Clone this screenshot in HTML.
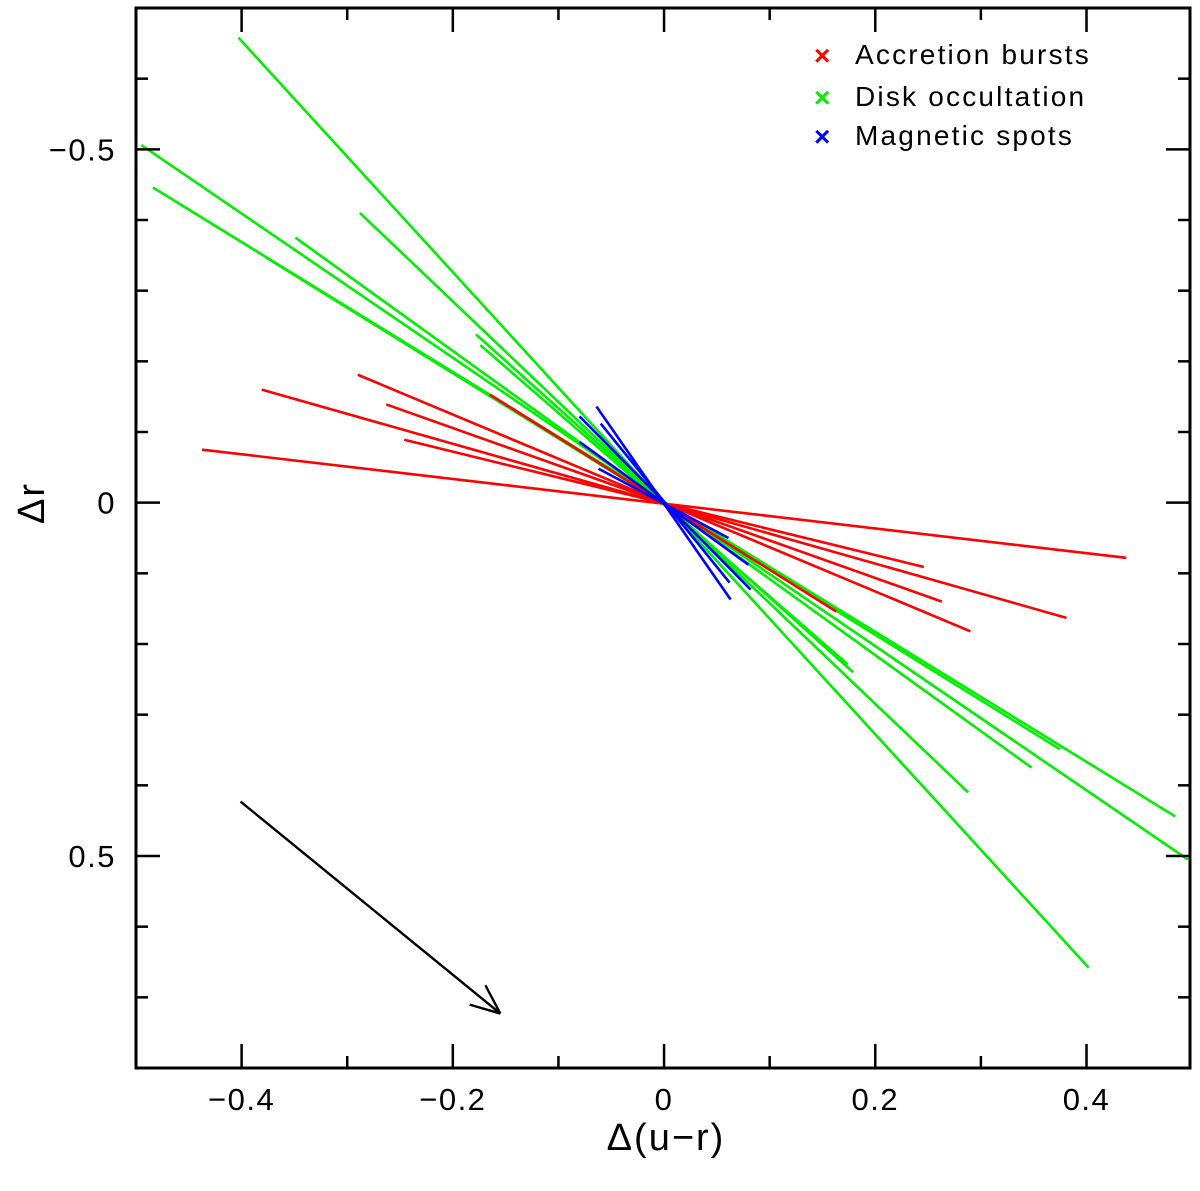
<!DOCTYPE html>
<html><head><meta charset="utf-8"><style>
html,body{margin:0;padding:0;background:#fff;}
svg text{font-family:"Liberation Sans",sans-serif;fill:#000;}
</style></head><body>
<svg id="chart" width="1200" height="1186" xmlns="http://www.w3.org/2000/svg">
<g id="marks"></g>
<g id="axes"></g>
<g font-size="28" letter-spacing="2.2">
 <text x="814" y="65" style="fill:#f00" font-size="28" font-weight="bold" letter-spacing="0">×</text>
 <text x="855" y="64">Accretion bursts</text>
 <text x="814" y="107" style="fill:#0e0" font-size="28" font-weight="bold" letter-spacing="0">×</text>
 <text x="855" y="106">Disk occultation</text>
 <text x="814" y="146" style="fill:#00f" font-size="28" font-weight="bold" letter-spacing="0">×</text>
 <text x="855" y="145">Magnetic spots</text>
</g>
<text x="666" y="1150" text-anchor="middle" font-size="38" letter-spacing="2">Δ(u−r)</text>
<text x="44" y="503" text-anchor="middle" font-size="38" letter-spacing="2" transform="rotate(-90 44 503)">Δr</text>
</svg>
<script>
const greenX1=[-0.403,-0.495,-0.484,-0.288,-0.349,-0.377,-0.178,-0.174];
const greenX2=[0.402,0.496,0.484,0.288,0.348,0.375,0.179,0.174];
const greenY1=[-0.658,-0.506,-0.446,-0.41,-0.375,-0.347,-0.238,-0.223];
const greenY2=[0.658,0.505,0.444,0.41,0.375,0.349,0.24,0.229];
const redX1=[-0.4375,-0.381,-0.29,-0.263,-0.246,-0.165];
const redX2=[0.4375,0.381,0.29,0.263,0.246,0.163];
const redY1=[-0.075,-0.16,-0.181,-0.139,-0.089,-0.153];
const redY2=[0.078,0.163,0.182,0.14,0.091,0.154];
const blueX1=[-0.064,-0.08,-0.06,-0.08,-0.062];
const blueX2=[0.063,0.082,0.062,0.08,0.061];
const blueY1=[-0.136,-0.122,-0.112,-0.086,-0.048];
const blueY2=[0.137,0.123,0.113,0.088,0.05];
const xTicks=[-0.4,-0.2,0,0.2,0.4];
const xTickLabels=["−0.4","−0.2","0","0.2","0.4"];
const yTicks=[-0.5,0,0.5];
const yTickLabels=["−0.5","0","0.5"];
const arrowStart=[-0.401,0.423];
const arrowEnd=[-0.155,0.723];

const L=136,R=1190,T=8,B=1068;
const X0=-0.5,X1=0.498,Y0=-0.7,Y1=0.8;
const sx=v=>L+(v-X0)/(X1-X0)*(R-L);
const sy=v=>T+(v-Y0)/(Y1-Y0)*(B-T);
const NS="http://www.w3.org/2000/svg";
const marks=document.getElementById('marks');
const axes=document.getElementById('axes');
function ln(g,x1,y1,x2,y2,c,w){const e=document.createElementNS(NS,'line');
e.setAttribute('x1',x1);e.setAttribute('y1',y1);e.setAttribute('x2',x2);e.setAttribute('y2',y2);
e.setAttribute('stroke',c);e.setAttribute('stroke-width',w);g.appendChild(e);return e;}
function series(xa,xb,ya,yb,c,name){for(let i=0;i<xa.length;i++){
const e=ln(marks,sx(xa[i]),sy(ya[i]),sx(xb[i]),sy(yb[i]),c,2.6);

}}
series(greenX1,greenX2,greenY1,greenY2,'#0e0','disk-occultation');
series(redX1,redX2,redY1,redY2,'#f00','accretion-burst');
series(blueX1,blueX2,blueY1,blueY2,'#00f','magnetic-spot');
const ax1=sx(arrowStart[0]),ay1=sy(arrowStart[1]),ax2=sx(arrowEnd[0]),ay2=sy(arrowEnd[1]);
const ar=ln(marks,ax1,ay1,ax2,ay2,'#000',2.4);


const ang=Math.atan2(ay2-ay1,ax2-ax1);
for(const d of [0.4,-0.4]){const h=ln(marks,ax2,ay2,ax2-32*Math.cos(ang+d),ay2-32*Math.sin(ang+d),'#000',2.4);

}
const fr=document.createElementNS(NS,'rect');
fr.setAttribute('x',L);fr.setAttribute('y',T);fr.setAttribute('width',R-L);fr.setAttribute('height',B-T);
fr.setAttribute('fill','none');fr.setAttribute('stroke','#000');fr.setAttribute('stroke-width',3);


axes.appendChild(fr);
for(let k=-5;k<=4;k++){const v=k/10,x=sx(v),maj=(k%2===0);const len=maj?24:12;
ln(axes,x,B,x,B-len,'#000',2.5);ln(axes,x,T,x,T+len,'#000',2.5);}
for(let k=-7;k<=8;k++){const v=k/10,y=sy(v),maj=(k%5===0);const len=maj?24:12;
ln(axes,L,y,L+len,y,'#000',2.5);ln(axes,R,y,R-len,y,'#000',2.5);}
xTicks.forEach((v,i)=>{const t=document.createElementNS(NS,'text');
t.setAttribute('x',sx(v));t.setAttribute('y',1110);t.setAttribute('text-anchor','middle');t.setAttribute('font-size','31');t.setAttribute('letter-spacing','1.5');
t.textContent=xTickLabels[i];


axes.appendChild(t);});
yTicks.forEach((v,i)=>{const t=document.createElementNS(NS,'text');
t.setAttribute('x',116);t.setAttribute('y',sy(v)+11);t.setAttribute('text-anchor','end');t.setAttribute('font-size','31');t.setAttribute('letter-spacing','1.5');
t.textContent=yTickLabels[i];


axes.appendChild(t);});
</script>
</body></html>
